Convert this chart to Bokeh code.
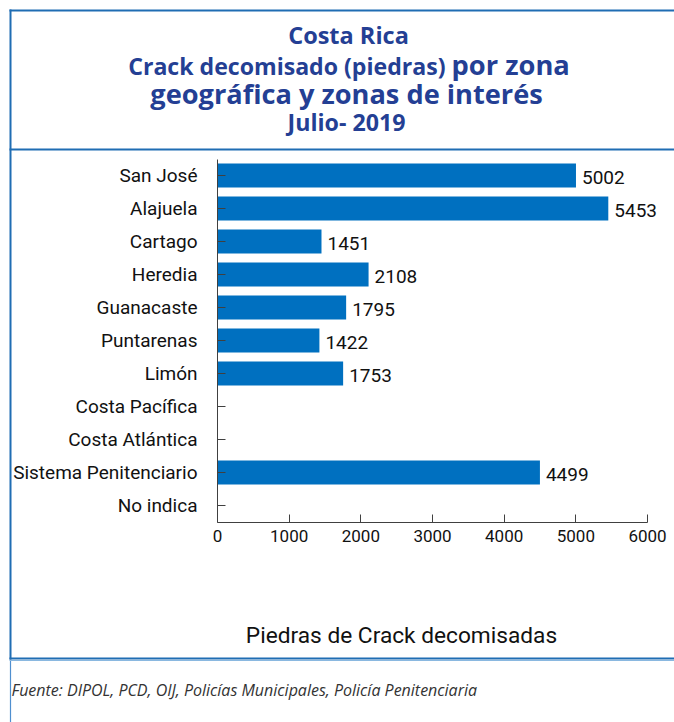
from bokeh.plotting import figure
from bokeh.models import Range1d, FixedTicker, ColumnDataSource
from bokeh.core.properties import value
from bokeh.embed import file_html
from bokeh.resources import INLINE

# ---- data ----
categories = ["San José", "Alajuela", "Cartago", "Heredia", "Guanacaste", "Puntarenas",
              "Limón", "Costa Pacífica", "Costa Atlántica", "Sistema Penitenciario", "No indica"]
piedras = [5002, 5453, 1451, 2108, 1795, 1422, 1753, 0, 0, 4499, 0]
x_ticks = [0, 1000, 2000, 3000, 4000, 5000, 6000]

title_lines = ["Costa Rica", "Crack decomisado (piedras)", "por zona",
               "geográfica y zonas de interés", "Julio- 2019"]
x_title = "Piedras de Crack decomisadas"
source_note = "Fuente: DIPOL, PCD, OIJ, Policías Municipales, Policía Penitenciaria"

BLUE_BAR = "#0070c0"
BLUE_LINE = "#1f6db3"
TITLE_COL = "#243f94"
LFONT = "Roboto"
TFONT = "Open Sans"

# ---- geometry (canvas pixels) ----
W, H = 674, 722
X0_PX, X6000_PX = 217, 647          # canvas x where 0 and 6000 fall
ROW0_PX, ROW_PX = 175, 33           # canvas y of first row centre, row pitch
XMAX = 6000


def dx(px):
    return (px - X0_PX) * XMAX / (X6000_PX - X0_PX)


def dy(py):
    return (py - ROW0_PX) / ROW_PX


p = figure(width=W, height=H, output_backend="svg", toolbar_location=None,
           x_range=Range1d(dx(0), dx(W)), y_range=Range1d(dy(H), dy(0)),
           min_border=0)
p.outline_line_color = None
p.xgrid.grid_line_color = None
p.ygrid.grid_line_color = None

rows = list(range(len(categories)))
p.hbar(y=rows, right=piedras, left=0, height=0.73, fill_color=BLUE_BAR, line_color=None)

lab_rows = [r for r, v in zip(rows, piedras) if v > 0]
lab_vals = [v for v in piedras if v > 0]
src = ColumnDataSource(dict(y=lab_rows, x=lab_vals, t=[str(v) for v in lab_vals]))
p.text(x="x", y="y", text="t", source=src, x_offset=6, y_offset=2,
       text_baseline="middle", text_align="left", text_font=value(LFONT),
       text_font_size="19px", text_color="#111111")

xa = p.xaxis[0]
xa.fixed_location = len(categories) - 0.5
xa.bounds = (0, XMAX)
xa.ticker = FixedTicker(ticks=x_ticks)
xa.major_tick_in = 8
xa.major_tick_out = 0
xa.minor_tick_line_color = None
xa.major_label_standoff = 8
xa.major_label_text_font = LFONT
xa.major_label_text_font_size = "17px"
xa.major_label_text_color = "#111111"
xa.axis_line_color = "#404040"
xa.major_tick_line_color = "#404040"

ya = p.yaxis[0]
ya.fixed_location = 0
ya.bounds = (-0.5, len(categories) - 0.5)
ya.ticker = FixedTicker(ticks=rows)
ya.major_label_overrides = {r: c for r, c in zip(rows, categories)}
ya.major_tick_in = 8
ya.major_tick_out = 0
ya.minor_tick_line_color = None
ya.major_label_standoff = 20
ya.major_label_text_font = LFONT
ya.major_label_text_font_size = "19px"
ya.major_label_text_color = "#111111"
ya.axis_line_color = "#404040"
ya.major_tick_line_color = "#404040"


def put_text(txt, x, y, size, font, style="normal", color="#111111", align="center"):
    p.text(x=[dx(x)], y=[dy(y)], text=[txt], text_align=align, text_baseline="middle",
           text_font=value(font), text_font_size=size, text_font_style=style,
           text_color=color)


def rule(x0, y0, x1, y1, width=2, color=BLUE_LINE):
    p.segment(x0=[dx(x0)], y0=[dy(y0)], x1=[dx(x1)], y1=[dy(y1)],
              line_color=color, line_width=width, line_cap="butt")


# frame lines of the original graphic
rule(9, 10, W, 10)
rule(10, 9, 10, 659)
rule(10, 659, 10, H, 1.2, "#4f8fcf")
rule(9, 149, W, 149)
rule(9, 658, W, 658)
rule(9, 660, W, 660, 1.2, "#8ab8e0")

put_text(title_lines[0], 348, 34, "23.5px", TFONT, "bold", TITLE_COL)
put_text(title_lines[1], 445, 65, "23.1px", TFONT, "bold", TITLE_COL, "right")
put_text(title_lines[2], 451, 63.5, "27.3px", TFONT, "bold", TITLE_COL, "left")
put_text(title_lines[3], 346, 92.5, "27.2px", TFONT, "bold", TITLE_COL)
put_text(title_lines[4], 346, 121, "23.2px", TFONT, "bold", TITLE_COL)
put_text(x_title, 401, 635, "22.7px", LFONT, "normal", "#111111")
put_text(source_note, 11, 689, "16px", "Open Sans", "italic", "#333333", "left")

open("out.html", "w").write(file_html(p, INLINE))
